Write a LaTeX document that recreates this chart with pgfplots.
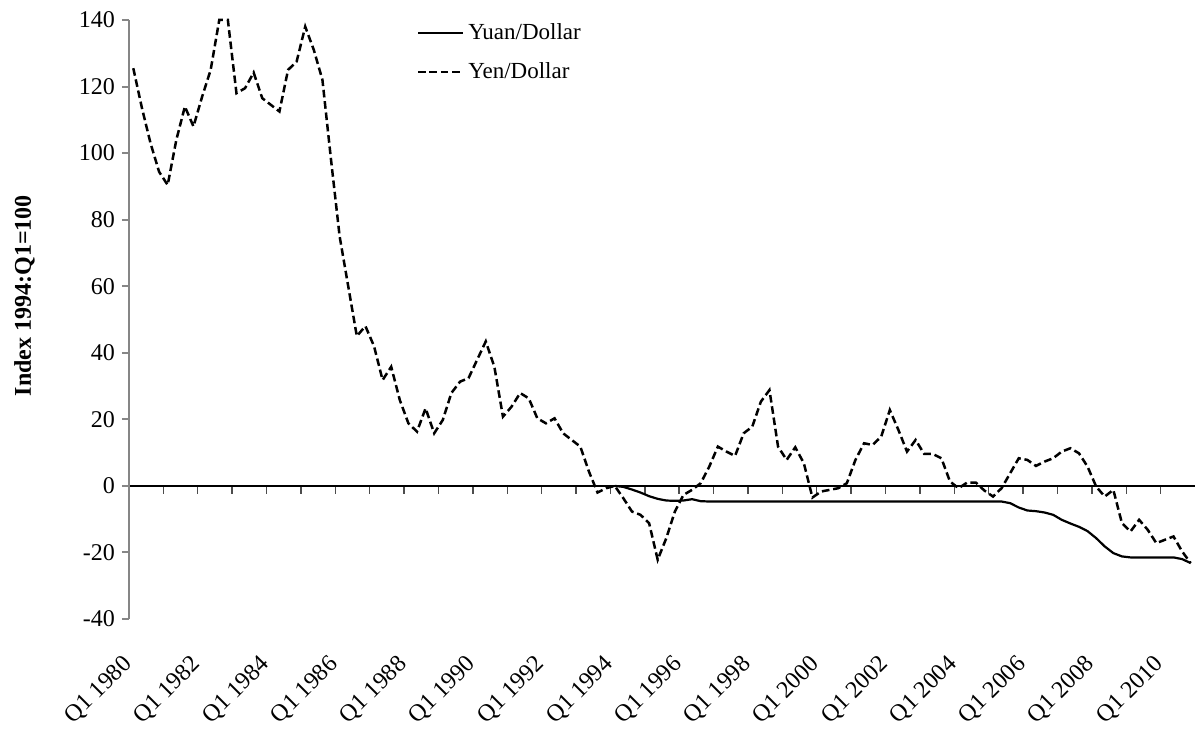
\documentclass[border=0pt]{standalone}
\usepackage{fontspec}
\setmainfont{Liberation Serif}
\usepackage{pgfplots}
\usepackage{pgfplotstable}
\pgfplotsset{compat=1.18}
\definecolor{axisgray}{HTML}{868686}

% quarter index: 0 = Q1 1980, 123 = Q4 2010
\pgfplotstableread{
q yen
0 125.5
1 113.6
2 103
3 94.4
4 90.4
5 103.9
6 114
7 108
8 116.9
9 125
10 140
11 140
12 118
13 119.5
14 124.2
15 116.5
16 114.5
17 112.5
18 125
19 127.5
20 138
21 131
22 122
23 98
24 75
25 60
26 45
27 48
28 42
29 31.8
30 35.8
31 25.8
32 18.8
33 16.3
34 23.3
35 15.8
36 19.8
37 27.9
38 31.3
39 32.4
40 37.9
41 43.4
42 35.8
43 20.8
44 23.8
45 27.9
46 26.3
47 20.3
48 18.8
49 20.3
50 15.8
51 13.8
52 11.8
53 4.3
54 -2
55 -0.7
56 0
57 -3.7
58 -7.7
59 -8.7
60 -11.2
61 -22.2
62 -15.7
63 -7.7
64 -2.7
65 -1.2
66 0.8
67 5.8
68 11.8
69 10.3
70 9
71 15.8
72 17.8
73 25.3
74 28.8
75 11.8
76 7.8
77 11.6
78 6.8
79 -3.5
80 -1.7
81 -1.2
82 -0.7
83 0.8
84 7.8
85 12.8
86 12.3
87 14.8
88 22.8
89 16.8
90 10.3
91 13.8
92 9.6
93 9.6
94 8.3
95 1.3
96 -0.7
97 1
98 1
99 -1.4
100 -3.2
101 -0.7
102 3.8
103 8.3
104 7.8
105 6
106 7.3
107 8.3
108 10.3
109 11.3
110 9.8
111 5.8
112 -0.2
113 -3.2
114 -1.2
115 -11.2
116 -13.7
117 -10.2
118 -13.2
119 -17.2
120 -16.2
121 -15.2
122 -19.7
123 -23.2
}\yentable

\pgfplotstableread{
q yuan
56 0
57 -0.3
58 -1.1
59 -2
60 -3.1
61 -3.9
62 -4.4
63 -4.5
64 -4.4
65 -4.0
66 -4.6
67 -4.7
70 -4.7
75 -4.7
80 -4.7
85 -4.7
90 -4.7
95 -4.7
101 -4.7
102 -5.2
103 -6.5
104 -7.4
105 -7.6
106 -8
107 -8.7
108 -10.2
109 -11.3
110 -12.3
111 -13.6
112 -15.7
113 -18.2
114 -20.2
115 -21.2
116 -21.5
121 -21.5
122 -22
123 -23.2
}\yuantable

\begin{document}
\begin{tikzpicture}
\pgfplotsset{
  common/.style={
    scale only axis,
    width=533pt, height=299.5pt,
    xmin=-0.5, xmax=123.5,
    ymin=-40, ymax=140,
  }
}
% zero line with its tick marks
\begin{axis}[
  common,
  axis x line=middle,
  axis y line=none,
  x axis line style={-, black, line width=0.7pt},
  xtick={3.5,7.5,...,119.5},
  xticklabels={},
  x tick style={black!70, line width=0.7pt},
  tick align=outside,
  major tick length=4pt,
]
\end{axis}
\begin{axis}[
  common,
  axis y line*=left,
  axis x line*=bottom,
  x axis line style={draw=none},
  y axis line style={axisgray, line width=1pt},
  ytick={-40,-20,...,140},
  y tick style={axisgray, line width=1pt},
  tick align=outside,
  major tick length=3.5pt,
  xtick={0,8,...,120},
  xticklabels={Q1 1980,Q1 1982,Q1 1984,Q1 1986,Q1 1988,Q1 1990,Q1 1992,Q1 1994,Q1 1996,Q1 1998,Q1 2000,Q1 2002,Q1 2004,Q1 2006,Q1 2008,Q1 2010},
  x tick style={draw=none},
  xticklabel style={yshift=-15pt, rotate=45, anchor=east, font=\fontsize{12}{14}\selectfont},
  yticklabel style={font=\fontsize{12}{14}\selectfont},
  /pgf/number format/assume math mode=true,
  ylabel={Index 1994:Q1=100},
  ylabel style={at={(rel axis cs:-0.098,0.54)}, anchor=center, font=\fontsize{12}{14}\selectfont\bfseries},
  clip=false,
  legend style={draw=none, fill=none, at={(rel axis cs:0.264,1.008)}, anchor=north west,
    font=\fontsize{11.5}{13}\selectfont, row sep=6pt},
  legend cell align=left,
  legend image code/.code={\draw[#1] (0pt,0pt) -- (22.5pt,0pt);},
]
\addplot[black, line width=1.1pt] table[x=q, y=yuan] {\yuantable};
\addlegendentry{Yuan/Dollar}
\addplot[black, line width=1.25pt, dash pattern=on 3.8pt off 1.9pt] table[x=q, y=yen] {\yentable};
\addlegendentry{Yen/Dollar}
\end{axis}
\pgfresetboundingbox
\path ([xshift=-64.5pt,yshift=-55.5pt]current axis.south west) rectangle ([yshift=10pt]current axis.north east);
\end{tikzpicture}
\end{document}
